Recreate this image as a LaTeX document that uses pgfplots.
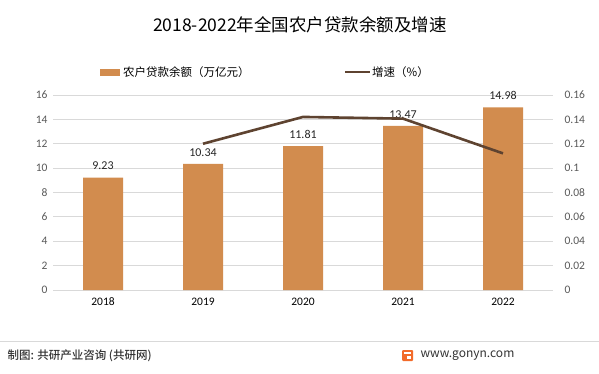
\documentclass[border=0pt]{standalone}
\usepackage{pgfplots}
\pgfplotsset{compat=1.18}
\usepackage{fontspec}
\setmainfont{Carlito}
\newfontfamily\cjk{Noto Sans CJK SC}
\newfontfamily\cjkm{Noto Sans CJK SC Medium}
\definecolor{barc}{HTML}{D28C4E}
\definecolor{linec}{HTML}{5E4330}
\definecolor{gridc}{HTML}{D9D9D9}
\definecolor{tickc}{HTML}{595959}
\definecolor{logoc}{HTML}{F26B2A}
\begin{document}
\begin{tikzpicture}[x=1pt,y=1pt]
\path[use as bounding box] (0,0) rectangle (599,373);
\fill[white] (0,0) rectangle (599,373);
\begin{axis}[
  at={(53pt,83pt)}, anchor=south west,
  scale only axis, width=500pt, height=195pt,
  xmin=-0.5, xmax=4.5, ymin=0, ymax=16,
  xtick={0,1,2,3,4}, xticklabels={2018,2019,2020,2021,2022},
  ytick={0,2,...,16},
  axis y line*=left, axis x line*=bottom,
  axis line style={draw=none},
  tick style={draw=none},
  ymajorgrids, grid style={gridc, line width=0.8pt},
  /pgf/number format/assume math mode=true,
  ticklabel style={font=\fontsize{11.5}{13}\selectfont, text=tickc},
  yticklabel style={xshift=-2pt},
  xticklabel style={yshift=-4pt, text=black},
  nodes near coords,
  nodes near coords style={font=\fontsize{12}{14}\selectfont, text=black!85, /pgf/number format/fixed, /pgf/number format/precision=2, /pgf/number format/fixed zerofill, /pgf/number format/assume math mode=true, yshift=4pt},
  clip=false,
]
\addplot[ybar, bar width=40pt, fill=barc, draw=none] coordinates {(0,9.23) (1,10.34) (2,11.81) (3,13.47) (4,14.98)};
\end{axis}
\begin{axis}[
  at={(53pt,83pt)}, anchor=south west,
  scale only axis, width=500pt, height=195pt,
  xmin=-0.5, xmax=4.5, ymin=0, ymax=0.16,
  axis y line*=right, axis x line=none,
  axis line style={draw=none},
  tick style={draw=none},
  ytick={0,0.02,0.04,0.06,0.08,0.1,0.12,0.14,0.16},
  yticklabels={0,0.02,0.04,0.06,0.08,0.1,0.12,0.14,0.16},
  ticklabel style={font=\fontsize{11.5}{13}\selectfont, text=tickc},
  yticklabel style={xshift=8pt},
]
\addplot[linec, line width=2.6pt, mark=none] coordinates {(1,0.120) (2,0.142) (3,0.1406) (4,0.1121)};
\end{axis}
% title
\node[font=\cjk\fontsize{17.5}{20}\selectfont] at (300,348) {2018-2022年全国农户贷款余额及增速};
% legend
\fill[barc] (100,297) rectangle (120,304);
\node[anchor=west, inner sep=1pt, font=\cjk\fontsize{11.5}{13}\selectfont] at (122,301) {农户贷款余额（万亿元）};
\draw[linec, line width=2.6pt] (345,301) -- (370,301);
\node[anchor=west, inner sep=1pt, font=\cjk\fontsize{11.5}{13}\selectfont] at (371,301) {增速（\%）};
% footer
\draw[gridc, line width=0.6pt] (0,32) -- (599,32);
\node[anchor=west, font=\cjkm\fontsize{11.5}{13}\selectfont, text=black!80] at (4,17) {制图: 共研产业咨询 (共研网)};
\fill[logoc, rounded corners=1pt] (402,12) rectangle (413,23);
\fill[white] (404,19.5) rectangle (411,21);
\fill[white] (407,14.5) rectangle (411,17.5);
\node[anchor=west, font=\cjk\fontsize{12}{14}\selectfont, text=black!80] at (417,17.5) {www.gonyn.com};
\end{tikzpicture}
\end{document}
